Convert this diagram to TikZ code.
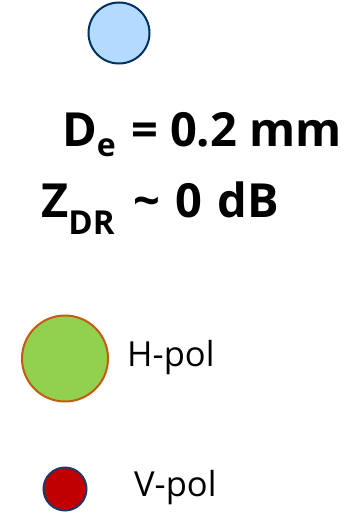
\documentclass[tikz,border=0pt]{standalone}
\usepackage{fontspec}
\setmainfont{Open Sans}
\definecolor{bluefill}{RGB}{180,219,255}
\definecolor{bluedraw}{RGB}{0,50,96}
\definecolor{greenfill}{RGB}{146,208,80}
\definecolor{greendraw}{RGB}{197,90,17}
\definecolor{redfill}{RGB}{192,0,0}
\definecolor{reddraw}{RGB}{31,56,100}
\begin{document}
\begin{tikzpicture}[x=1pt,y=-1pt,
  drop/.style={circle,inner sep=0pt,line width=2pt},
  big/.style={anchor=base west,inner sep=0pt,font=\fontsize{47}{52}\selectfont\bfseries},
  lab/.style={anchor=base west,inner sep=0pt,font=\fontsize{34.5}{40}\selectfont}]
\useasboundingbox (0,0) rectangle (360,514);
\node[drop,draw=bluedraw,fill=bluefill,minimum size=61pt] (small) at (119,33) {};
\node[big] (de) at (62,146) {D\raisebox{-10pt}{\fontsize{32}{32}\selectfont e}\hspace{3pt} = 0.2 mm};
\node[big] (zdr) at (41,217) {Z\raisebox{-17pt}{\fontsize{33}{33}\selectfont DR}\hspace{19pt}\textasciitilde\hspace{15pt}0\hspace{15pt}dB};
\node[drop,draw=greendraw,fill=greenfill,minimum size=86pt] (h) at (65,358.5) {};
\node[lab] (hl) at (127,366) {H-pol};
\node[drop,draw=reddraw,fill=redfill,minimum size=43pt] (v) at (65,489) {};
\node[lab] (vl) at (134,496) {V-pol};
\end{tikzpicture}
\end{document}
